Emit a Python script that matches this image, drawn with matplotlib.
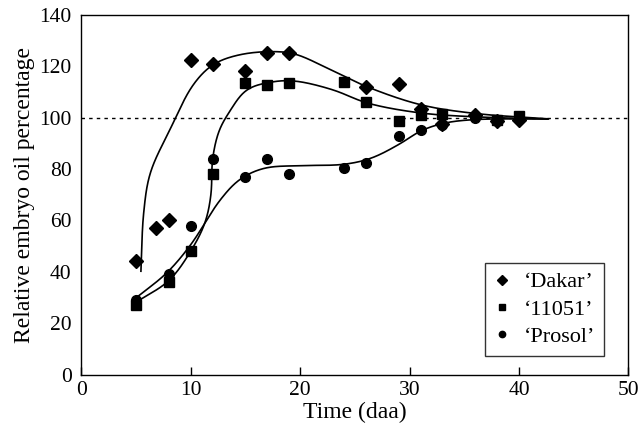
import numpy as np
import matplotlib
matplotlib.use("Agg")
import matplotlib.pyplot as plt

plt.rcParams["font.family"] = ["Liberation Serif", "DejaVu Serif"]

# Measured points (time in days after anthesis, relative oil %)
dakar_x = [5, 6.8, 8, 10, 12, 15, 17, 19, 26, 29, 31, 33, 36, 38, 40]
dakar_y = [44, 57, 60, 122.5, 121, 118, 125, 125, 112, 113, 103.5, 97.5, 101, 98.5, 99]

l11051_x = [5, 8, 10, 12, 15, 17, 19, 24, 26, 29, 31, 33, 38, 40]
l11051_y = [27, 36, 48, 78, 113.5, 112.5, 113.5, 114, 106, 98.5, 101, 101.5, 99, 100.5]

prosol_x = [5, 8, 10, 12, 15, 17, 19, 24, 26, 29, 31, 33, 36, 38]
prosol_y = [29, 39, 58, 84, 77, 84, 78, 80.4, 82.5, 93, 95, 97, 100, 99]

# Fitted trend curves
dakar_fit_x = [5.45, 5.7, 6.3, 8.1, 10.26, 12.1, 14.5, 17.5, 19.5, 22.8, 26, 31, 36, 42.7]
dakar_fit_y = [40.2, 62.9, 78.4, 95.3, 113.0, 120.8, 124.5, 125.7, 124.8, 118.6, 112.2, 105, 101.6, 99.5]

l11051_fit_x = [5.05, 8, 10, 11.3, 11.85, 12.0, 12.6, 13.5, 15.1, 17.3, 19.4, 23, 26.1, 31, 36, 42.7]
l11051_fit_y = [28.3, 36.5, 48, 59, 70, 84, 95, 102, 110.8, 113.8, 114.3, 110.8, 105.7, 101.8, 100.3, 99.4]

prosol_fit_x = [5.05, 7.8, 10, 12.7, 14.5, 16.7, 20, 24, 26.5, 29.2, 31, 33.1, 35.8, 42.7]
prosol_fit_y = [30, 39.5, 50.5, 68, 76, 80.3, 81.3, 81.8, 84.2, 90, 94.8, 97.8, 99.2, 99.5]

reference_level = 100

SX, SY = 10.94, 2.571  # data units -> pixels, to smooth evenly on screen


def smooth_curve(xk, yk, n=40, sigma=5.0):
    # centripetal Catmull-Rom through the knots, then a light gaussian smoothing
    p = np.column_stack([np.asarray(xk, float) * SX, np.asarray(yk, float) * SY])
    p = np.vstack([2 * p[0] - p[1], p, 2 * p[-1] - p[-2]])
    out = []
    for i in range(1, len(p) - 2):
        p0, p1, p2, p3 = p[i - 1], p[i], p[i + 1], p[i + 2]
        t0 = 0.0
        t1 = t0 + np.linalg.norm(p1 - p0) ** 0.5
        t2 = t1 + np.linalg.norm(p2 - p1) ** 0.5
        t3 = t2 + np.linalg.norm(p3 - p2) ** 0.5
        t = np.linspace(t1, t2, n)[:, None]
        a1 = (t1 - t) / (t1 - t0) * p0 + (t - t0) / (t1 - t0) * p1
        a2 = (t2 - t) / (t2 - t1) * p1 + (t - t1) / (t2 - t1) * p2
        a3 = (t3 - t) / (t3 - t2) * p2 + (t - t2) / (t3 - t2) * p3
        b1 = (t2 - t) / (t2 - t0) * a1 + (t - t0) / (t2 - t0) * a2
        b2 = (t3 - t) / (t3 - t1) * a2 + (t - t1) / (t3 - t1) * a3
        out.append((t2 - t) / (t2 - t1) * b1 + (t - t1) / (t2 - t1) * b2)
    c = np.vstack(out)
    # resample by arc length (1 px steps)
    seg = np.r_[0, np.cumsum(np.linalg.norm(np.diff(c, axis=0), axis=1))]
    s = np.arange(0, seg[-1], 1.0)
    c = np.column_stack([np.interp(s, seg, c[:, 0]), np.interp(s, seg, c[:, 1])])
    k = int(3 * sigma)
    w = np.exp(-0.5 * (np.arange(-k, k + 1) / sigma) ** 2)
    w /= w.sum()
    pad_a = 2 * c[0] - c[1:k + 1][::-1]
    pad_b = 2 * c[-1] - c[-k - 1:-1][::-1]
    cp = np.vstack([pad_a, c, pad_b])
    sm = np.column_stack([np.convolve(cp[:, j], w, mode="valid") for j in range(2)])
    return sm[:, 0] / SX, sm[:, 1] / SY


fig = plt.figure(figsize=(6.4, 4.36), dpi=100)
ax = fig.add_axes([0.127, 0.141, 0.855, 0.825])

ax.axhline(reference_level, color="black", linestyle=(0, (2.5, 3)), linewidth=1.0)

for fx, fy in [(dakar_fit_x, dakar_fit_y), (l11051_fit_x, l11051_fit_y), (prosol_fit_x, prosol_fit_y)]:
    xs, ys = smooth_curve(fx, fy)
    ax.plot(xs, ys, color="black", linewidth=1.2)

ax.plot(dakar_x, dakar_y, linestyle="none", marker="D", markersize=7.5, color="black", label="\u2018Dakar\u2019")
ax.plot(l11051_x, l11051_y, linestyle="none", marker="s", markersize=7, color="black", label="\u201811051\u2019")
ax.plot(prosol_x, prosol_y, linestyle="none", marker="o", markersize=7, color="black", label="\u2018Prosol\u2019")

ax.set_xlim(0, 50)
ax.set_ylim(0, 140)
ax.set_xticks(range(0, 51, 10))
ax.set_yticks(range(0, 141, 20))
ax.tick_params(axis="x", direction="in", length=6, width=1, labelsize=15.5, pad=5)
ax.tick_params(axis="y", length=0, labelsize=15.5, pad=7)
for s in ax.spines.values():
    s.set_linewidth(1.0)

ax.set_xlabel("Time (daa)", fontsize=17, labelpad=1)
ax.set_ylabel("Relative embryo oil percentage", fontsize=17, labelpad=3)

leg = ax.legend(loc="lower right", bbox_to_anchor=(0.955, 0.052), fontsize=16, frameon=True,
                fancybox=False, edgecolor="black", markerscale=0.65, handlelength=0.8,
                handletextpad=0.55, borderpad=0.4, labelspacing=0.3, borderaxespad=0)
leg.get_frame().set_linewidth(1.0)

fig.savefig("out.png", dpi=100)
